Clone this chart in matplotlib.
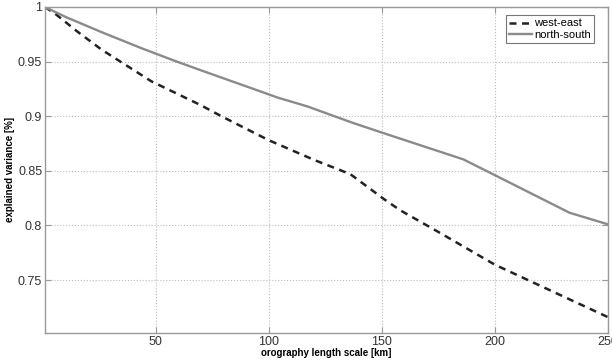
import matplotlib
matplotlib.use("Agg")
import matplotlib.pyplot as plt

plt.rcParams['font.family'] = ['Liberation Sans', 'DejaVu Sans']

# west-east (dashed)
x_we = [1, 6, 15, 26, 48, 70, 79, 100, 120, 136, 151, 158, 175, 200, 225, 250]
y_we = [1.0, 0.993, 0.978, 0.961, 0.932, 0.910, 0.900, 0.878, 0.860, 0.847,
        0.824, 0.814, 0.794, 0.764, 0.740, 0.716]

# north-south (solid)
x_ns = [1, 10, 26, 44, 58, 70, 85, 104, 117, 137, 150, 186, 200, 233, 250]
y_ns = [1.0, 0.991, 0.977, 0.962, 0.951, 0.942, 0.931, 0.917, 0.909, 0.894,
        0.885, 0.8605, 0.846, 0.8116, 0.801]

x_ticks = [50, 100, 150, 200, 250]
y_ticks = [0.75, 0.8, 0.85, 0.9, 0.95, 1.0]
y_tick_labels = ['0.75', '0.8', '0.85', '0.9', '0.95', '1']

fig = plt.figure(figsize=(6.12, 3.61), dpi=100)
ax = fig.add_axes([45 / 612, 1 - 333 / 361, 563 / 612, 326 / 361])

ax.plot(x_we, y_we, color='#222222', linestyle=(0, (2.8, 2.2)), linewidth=1.8, label='west-east')
ax.plot(x_ns, y_ns, color='#8a8a8a', linestyle='-', linewidth=1.7, label='north-south')

ax.set_xlim(1, 250)
ax.set_ylim(0.7015, 1.0)
ax.set_xticks(x_ticks)
ax.set_yticks(y_ticks)
ax.set_yticklabels(y_tick_labels)
ax.grid(True, color='#bbbbbb', linestyle=':', linewidth=0.8)

for s in ax.spines.values():
    s.set_color('#999999')
    s.set_linewidth(1.0)
ax.tick_params(direction='in', length=4, width=0.8, color='#999999',
               top=True, right=True, labelsize=9, labelcolor='#333333', pad=2)

ax.set_xlabel('orography length scale [km]', fontsize=7, fontweight='bold', labelpad=0)
ax.set_ylabel('explained variance [%]', fontsize=7, fontweight='bold', labelpad=2)

leg = ax.legend(loc='upper right', bbox_to_anchor=(0.975, 0.975), fontsize=8,
                frameon=True, fancybox=False, edgecolor='#555555',
                handlelength=2.0, handletextpad=0.2, borderpad=0.3,
                labelspacing=0.15, borderaxespad=0)
leg.get_frame().set_linewidth(0.8)

fig.savefig('out.png', dpi=100)
